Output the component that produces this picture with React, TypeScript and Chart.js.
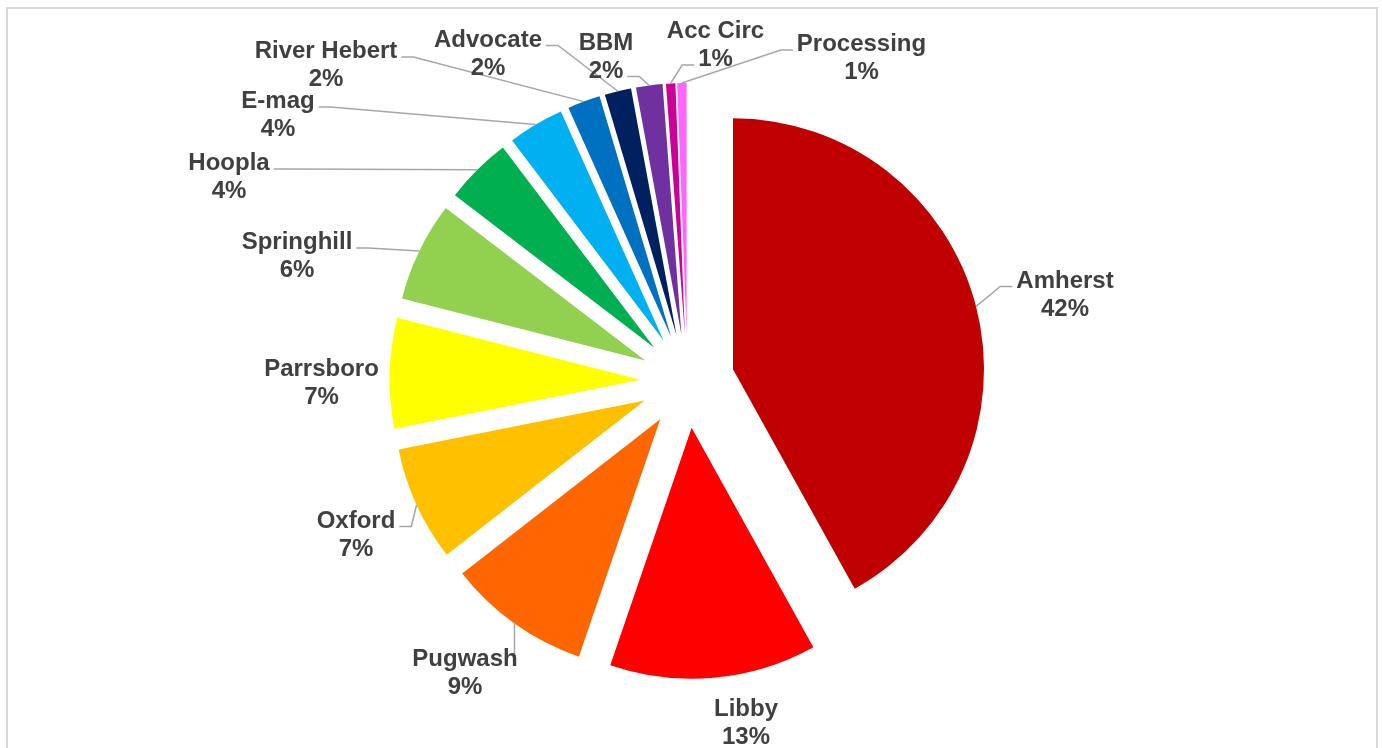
import React, { useEffect, useRef } from 'react';
import { Chart, registerables } from 'chart.js';

Chart.register(...registerables);

// ---- data ----
const CATEGORIES = ['Amherst', 'Libby', 'Pugwash', 'Oxford', 'Parrsboro', 'Springhill', 'Hoopla', 'E-mag', 'River Hebert', 'Advocate', 'BBM', 'Acc Circ', 'Processing'];
const SHARES = [41.9, 13.3, 9.2, 7.4, 7.1, 6.4, 4.3, 3.6, 2.1, 1.7, 1.7, 0.6, 0.6];
const COLORS = ['#C00000', '#FF0000', '#FF6600', '#FFC000', '#FFFF00', '#92D050', '#00B050', '#00B0F0', '#0070C0', '#002060', '#7030A0', '#CC0099', '#FF66FF'];

// ---- label layout (offset of label centre from pie centre) ----
const LABEL_DX = [377.5, 58.5, -222.5, -331.5, -366, -390.5, -458.5, -409.5, -361.5, -199.5, -81.5, 28, 174];
const LABEL_DY = [-88, 340, 290, 152, 0, -126.5, -205.5, -267.5, -317.5, -329, -326, -337.5, -324.5];
const SHOW_LEADER = [true, false, true, true, false, true, true, true, true, true, true, true, true];

const EXPLODE = 47;
const RADIUS = 251;
const FONT = 'bold 24px "Liberation Sans", Arial, sans-serif';
const LINE_H = 28;

const explodePlugin = {
  id: 'explode',
  beforeDatasetsDraw(chart: any) {
    const meta = chart.getDatasetMeta(0);
    meta.data.forEach((arc: any) => {
      if (arc.__exploded) return;
      const orig = arc.draw.bind(arc);
      arc.draw = (ctx: CanvasRenderingContext2D, area: any) => {
        const mid = (arc.startAngle + arc.endAngle) / 2;
        ctx.save();
        ctx.translate(Math.cos(mid) * EXPLODE, Math.sin(mid) * EXPLODE);
        orig(ctx, area);
        ctx.restore();
      };
      arc.__exploded = true;
    });
  },
};

const labelPlugin = {
  id: 'pieLabels',
  afterDatasetsDraw(chart: any) {
    const ctx: CanvasRenderingContext2D = chart.ctx;
    const meta = chart.getDatasetMeta(0);
    const data: number[] = chart.data.datasets[0].data;
    const total = data.reduce((a, b) => a + b, 0);
    ctx.save();
    ctx.font = FONT;
    meta.data.forEach((arc: any, i: number) => {
      const mid = (arc.startAngle + arc.endAngle) / 2;
      const cx = arc.x + Math.cos(mid) * EXPLODE;
      const cy = arc.y + Math.sin(mid) * EXPLODE;
      const ax = cx + Math.cos(mid) * arc.outerRadius;
      const ay = cy + Math.sin(mid) * arc.outerRadius;
      const lx = arc.x + LABEL_DX[i];
      const ly = arc.y + LABEL_DY[i];
      const lines = [CATEGORIES[i], Math.round((data[i] / total) * 100) + '%'];
      const capCenters = [ly - LINE_H / 2, ly + LINE_H / 2];

      if (SHOW_LEADER[i]) {
        let best: [number, number] | null = null;
        let bestD = Infinity;
        lines.forEach((t, k) => {
          const w = ctx.measureText(t).width;
          const px = ax < lx ? lx - w / 2 - 4 : lx + w / 2 + 4;
          const py = capCenters[k] + 7.5;
          const d = Math.hypot(px - ax, py - ay);
          if (d < bestD) { bestD = d; best = [px, py]; }
        });
        if (best) {
          const [px, py] = best as [number, number];
          const dx = Math.abs(ax - px);
          ctx.beginPath();
          if (dx < 9) {
            ctx.moveTo(ax, py);
            ctx.lineTo(ax, ay);
          } else {
            const dir = ax < px ? -1 : 1;
            const elbow = Math.min(12, dx);
            ctx.moveTo(px, py);
            ctx.lineTo(px + dir * elbow, py);
            ctx.lineTo(ax, ay);
          }
          ctx.strokeStyle = '#A6A6A6';
          ctx.lineWidth = 1.5;
          ctx.stroke();
        }
      }

      ctx.fillStyle = '#404040';
      ctx.textAlign = 'center';
      ctx.textBaseline = 'alphabetic';
      lines.forEach((t, k) => {
        ctx.fillText(t, lx, capCenters[k] + 8.6);
      });
    });
    ctx.restore();
  },
};

export default function App() {
  const ref = useRef<HTMLCanvasElement | null>(null);

  useEffect(() => {
    if (!ref.current) return;
    const chart = new Chart(ref.current, {
      type: 'pie',
      data: {
        labels: CATEGORIES,
        datasets: [
          {
            data: SHARES,
            backgroundColor: COLORS,
            borderWidth: 0,
            hoverOffset: 0,
          },
        ],
      },
      options: {
        responsive: false,
        animation: false,
        radius: RADIUS,
        layout: { padding: { left: 0, right: 9, top: 0, bottom: 16 } },
        plugins: {
          legend: { display: false },
          tooltip: { enabled: false },
        },
        events: [],
      } as any,
      plugins: [explodePlugin, labelPlugin],
    });
    return () => chart.destroy();
  }, []);

  return (
    <div
      style={{
        position: 'absolute',
        left: 6,
        top: 7,
        width: 1368,
        height: 760,
        border: '2px solid #D9D9D9',
        background: '#FFFFFF',
      }}
    >
      <canvas ref={ref} width={1368} height={760} style={{ display: 'block', width: 1368, height: 760 }} />
    </div>
  );
}
